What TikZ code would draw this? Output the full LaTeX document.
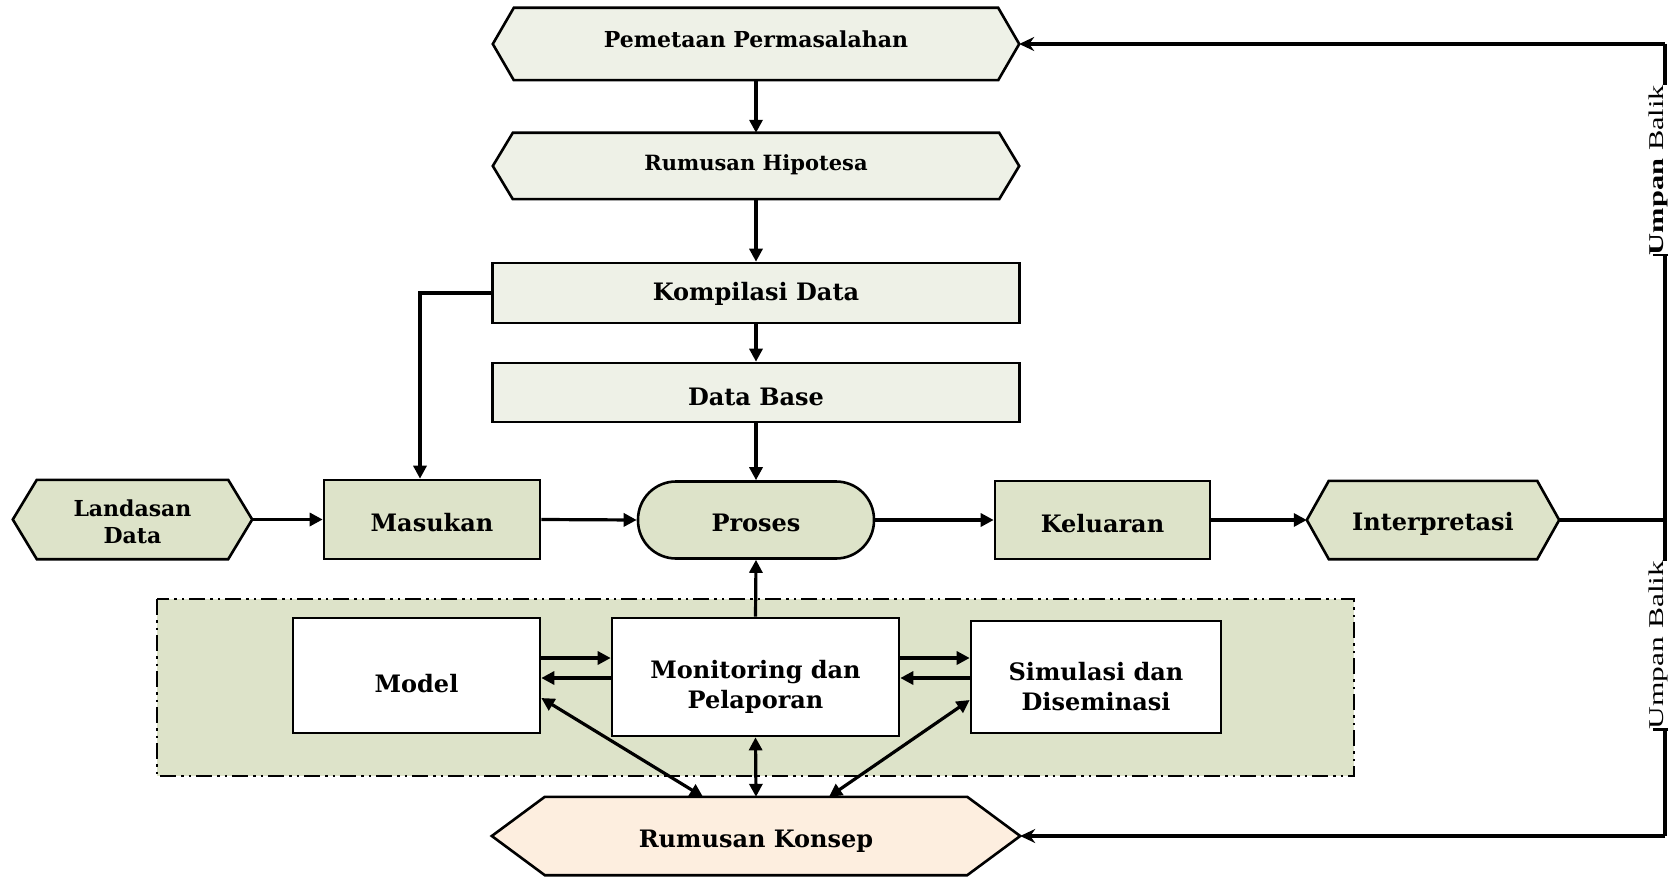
\documentclass[tikz,border=0pt]{standalone}
\usepackage{fontspec}
\setmainfont{DejaVu Serif}
\newfontfamily\lblfont{Liberation Serif}
\usetikzlibrary{arrows.meta,backgrounds,calc}

\definecolor{paleGreen}{HTML}{EEF1E7}
\definecolor{sage}{HTML}{DDE3C9}
\definecolor{peach}{HTML}{FDEEDF}

% outline of a six-sided banner around a (borderless) node
\newcommand\hexoutline[3]{%
  \draw[line width=2.6pt, fill=#3, line join=miter]
    (#1.west) -- ([xshift=#2pt]#1.north west) -- ([xshift=-#2pt]#1.north east)
    -- (#1.east) -- ([xshift=-#2pt]#1.south east) -- ([xshift=#2pt]#1.south west) -- cycle;}
% centred (possibly multi-line) label, moved up or down by #1 without changing its size
\newcommand\lbl[2]{\raisebox{#1}[\height][\depth]{\begin{tabular}{@{}c@{}}#2\end{tabular}}}

\begin{document}
\begin{tikzpicture}[x=1pt,y=-1pt,
  txt/.style={font=\bfseries\fontsize{#1}{30}\selectfont},
  txt/.default=24,
  box/.style={draw=black, line width=2.6pt, rectangle, inner sep=0pt},
  hexa/.style={rectangle, inner sep=0pt},
  conn/.style={line width=3.2pt},
  arr/.style={conn, -{Triangle[length=13pt,width=13pt]}},
  darr/.style={conn, {Triangle[length=13pt,width=13pt]}-{Triangle[length=13pt,width=13pt]}},
  fbarr/.style={conn, -{Stealth[length=15pt,width=14pt,inset=5pt]}},
  fblabel/.style={fill=white, inner sep=0pt, rotate=90, anchor=south},
]
\useasboundingbox (0,0) rectangle (1672,877);

% shaded working area
\draw[line width=2.2pt, fill=sage, dash pattern=on 16pt off 5pt on 2.5pt off 5pt on 2.5pt off 5pt]
  (157,599) rectangle (1354,776);

% upper column
\node[hexa, txt=22, minimum width=526, minimum height=72] (pem) at (756,44) {\lbl{2pt}{Pemetaan Permasalahan}};
\node[hexa, txt=21, minimum width=526, minimum height=66] (hip) at (756,166) {\lbl{1pt}{Rumusan Hipotesa}};
\node[box, txt, fill=paleGreen, minimum width=527, minimum height=60] (komp) at (756,293) {\lbl{-1pt}{Kompilasi Data}};
\node[box, txt, fill=paleGreen, minimum width=527, minimum height=59] (dbase) at (756,392.5) {\lbl{-7pt}{Data Base}};

% main row
\node[hexa, txt=22, minimum width=239, minimum height=79] (land) at (132.5,519.5) {\lbl{-4pt}{Landasan\\[-3pt]Data}};
\node[box, txt, fill=sage, minimum width=216, minimum height=79] (mas) at (432,519.5) {\lbl{-6pt}{Masukan}};
\node[box, txt, fill=sage, minimum width=236, minimum height=77, rounded corners=38pt] (proc) at (756,520) {\lbl{-5pt}{Proses}};
\node[box, txt, fill=sage, minimum width=215, minimum height=78] (kel) at (1102.5,520) {\lbl{-6pt}{Keluaran}};
\node[hexa, txt, minimum width=252, minimum height=78] (interp) at (1433,520) {\lbl{-4pt}{Interpretasi}};

% inner blocks
\node[box, txt, fill=white, minimum width=247, minimum height=115] (model) at (416.5,675.5) {\lbl{-11pt}{Model}};
\node[box, txt, fill=white, minimum width=287, minimum height=118] (mon) at (755.5,677) {\lbl{-10pt}{Monitoring dan\\Pelaporan}};
\node[box, txt, fill=white, minimum width=250, minimum height=112] (sim) at (1096,677) {\lbl{-12pt}{Simulasi dan\\Diseminasi}};

% concept banner
\node[hexa, txt, minimum width=528, minimum height=78] (konsep) at (756,836) {\lbl{-5pt}{Rumusan Konsep}};

\begin{scope}[on background layer]
  \hexoutline{pem}{21}{paleGreen}
  \hexoutline{hip}{20}{paleGreen}
  \hexoutline{land}{24}{sage}
  \hexoutline{interp}{22}{sage}
  \hexoutline{konsep}{53}{peach}
\end{scope}

% helper points
\coordinate (fbtop) at (1665,44);
\coordinate (fbmid) at (1665,520);
\coordinate (fbbot) at (1665,836);
\coordinate (yA) at (0,658);
\coordinate (yB) at (0,678);
\coordinate (dM) at (0,698);
\coordinate (dS) at (0,700);
\coordinate (xM) at (703,0);
\coordinate (xS) at (829,0);

% vertical flow
\draw[arr] (pem.south) -- (hip.north);
\draw[arr] (hip.south) -- (komp.north);
\draw[arr] (komp.south) -- (dbase.north);
\draw[arr] (dbase.south) -- (proc.north);
\draw[arr] (komp.west) -| ([xshift=-12pt]mas.north);

% horizontal flow
\draw[arr] (land.east) -- (mas.west);
\draw[arr] (mas.east) -- (proc.west);
\draw[arr] (proc.east) -- (kel.west);
\draw[arr] (kel.east) -- (interp.west);

% feedback loop
\draw[conn] (interp.east) -- (fbmid);
\draw[conn] (fbtop) -- (fbbot);
\draw[fbarr] (fbtop) -- (pem.east);
\draw[fbarr] (fbbot) -- (konsep.east);
\node[fblabel] (fb1) at (1668,170) {\lblfont\fontsize{21}{21}\selectfont\scalebox{1.45}[1]{\textbf{Umpan} Balik}};
\node[fblabel] (fb2) at (1668,645) {\lblfont\fontsize{21}{21}\selectfont\scalebox{1.5}[1]{Umpan Balik}};
\draw[line width=2.4pt] (fb1.south west) -- ++(-15,0);
\draw[line width=2.4pt] (fb2.south west) -- ++(-15,0);

% links inside the working area
\draw[arr] (mon.north) -- (proc.south);
\draw[arr] (model.east |- yA) -- (mon.west |- yA);
\draw[arr] (mon.west |- yB) -- (model.east |- yB);
\draw[arr] (mon.east |- yA) -- (sim.west |- yA);
\draw[arr] (sim.west |- yB) -- (mon.east |- yB);
\draw[darr] (model.east |- dM) -- (konsep.north -| xM);
\draw[darr] (sim.west |- dS) -- (konsep.north -| xS);
\draw[darr] (mon.south) -- (konsep.north);
\end{tikzpicture}
\end{document}
